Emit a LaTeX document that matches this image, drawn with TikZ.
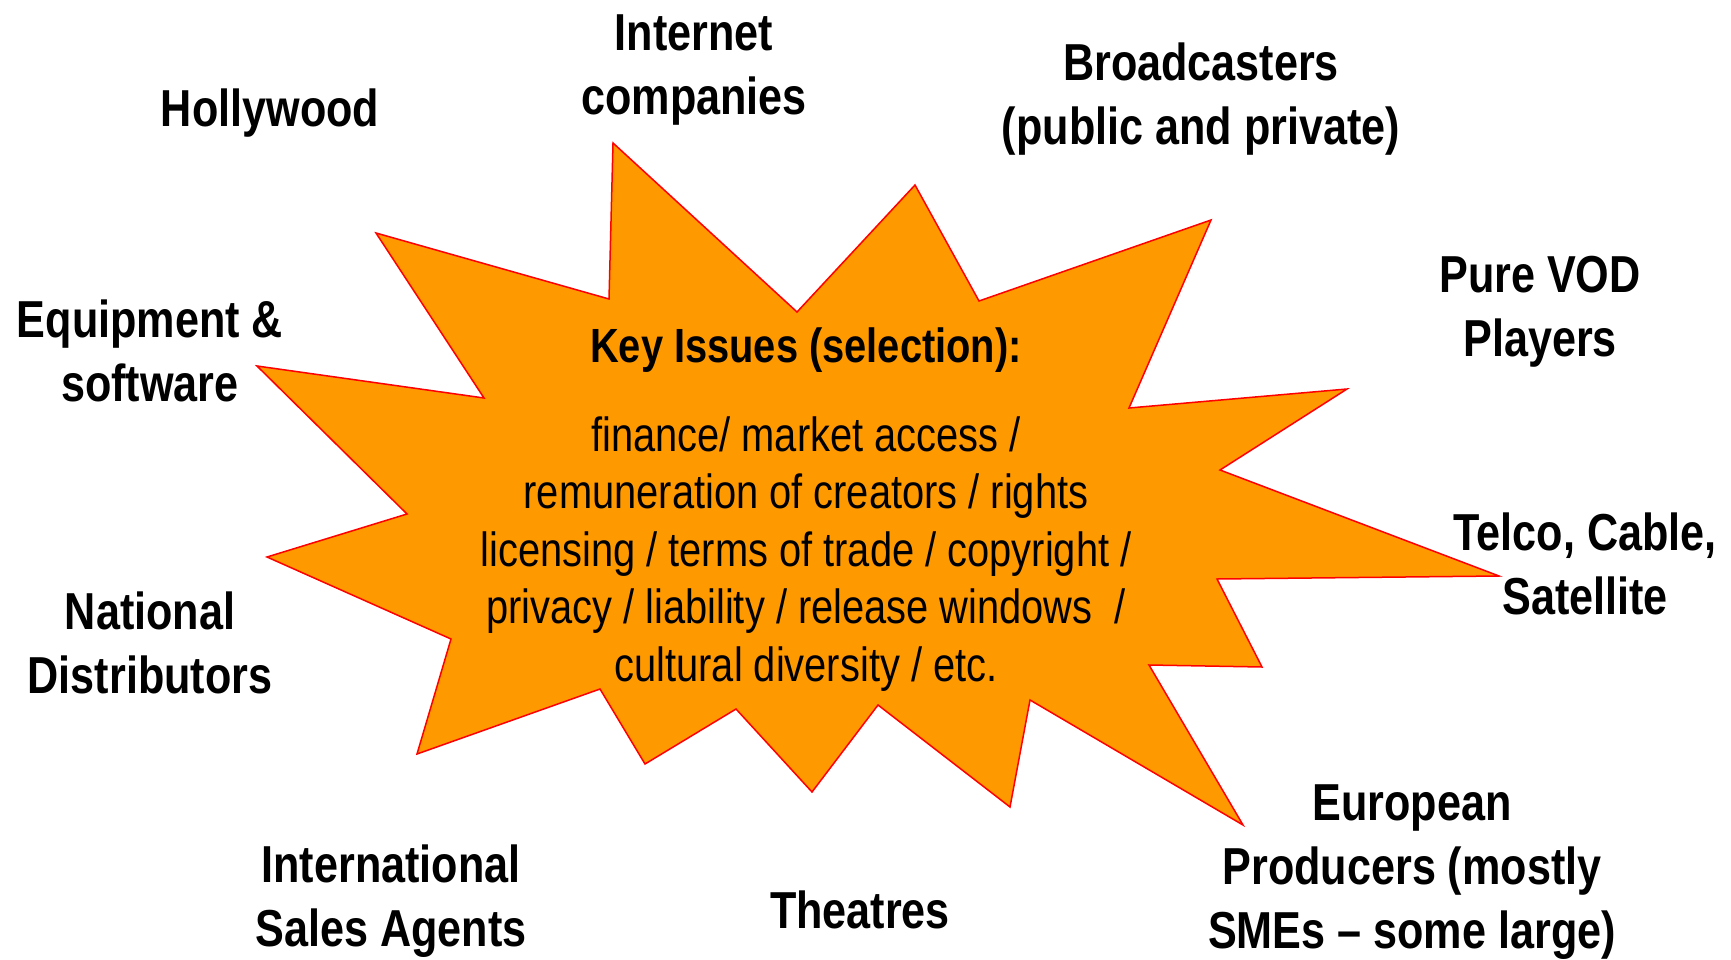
\documentclass[tikz,border=0pt]{standalone}
\usepackage{fontspec}
\setmainfont{Liberation Sans}[FakeStretch=0.83]
\definecolor{burst}{RGB}{255,153,0}
\begin{document}
\begin{tikzpicture}[x=1pt,y=-1pt,
  player/.style={align=center,inner sep=0pt,font=\fontsize{52}{64}\selectfont\bfseries},
  issues/.style={align=center,inner sep=0pt,font=\fontsize{48}{57.5}\selectfont}]
\useasboundingbox (0,0) rectangle (1731,960);

\draw[red,line width=1.5pt,fill=burst,line join=miter]
  (613,143) -- (797,312) -- (915,185) -- (979,301) -- (1211,220) -- (1129,408)
  -- (1347,389) -- (1220,470) -- (1499,576) -- (1217,579) -- (1262,667) -- (1149,665)
  -- (1243,825) -- (1030,700) -- (1010,807) -- (878,705) -- (812,792) -- (736,709)
  -- (645,764) -- (600,689) -- (417,754) -- (451,639) -- (267,557) -- (407,514)
  -- (257,366) -- (484,398) -- (376,233) -- (609,299) -- cycle;

\node[issues,font=\fontsize{48}{57.5}\selectfont\bfseries] (key) at (806,350.5) {Key Issues (selection):};
\node[issues] (list) at (806,554) {finance/ market access /\\remuneration of creators / rights\\licensing / terms of trade / copyright /\\privacy / liability / release windows~~/\\cultural diversity / etc.};

\node[player] (hollywood) at (270,113.5) {Hollywood};
\node[player] (internet) at (694,70) {Internet\\companies};
\node[player] (broadcast) at (1201,99.5) {Broadcasters\\(public and private)};
\node[player] (vod) at (1540,311.5) {Pure VOD\\Players};
\node[player] (telco) at (1585,564) {Telco, Cable,\\Satellite};
\node[player] (producers) at (1412,872.5) {European\\Producers (mostly\\SMEs – some large)};
\node[player] (theatres) at (860,910) {Theatres};
\node[player] (sales) at (391,901) {International\\Sales Agents};
\node[player] (national) at (150,643) {National\\Distributors};
\node[player] (equipment) at (150,351) {Equipment \&\\software};
\end{tikzpicture}
\end{document}
